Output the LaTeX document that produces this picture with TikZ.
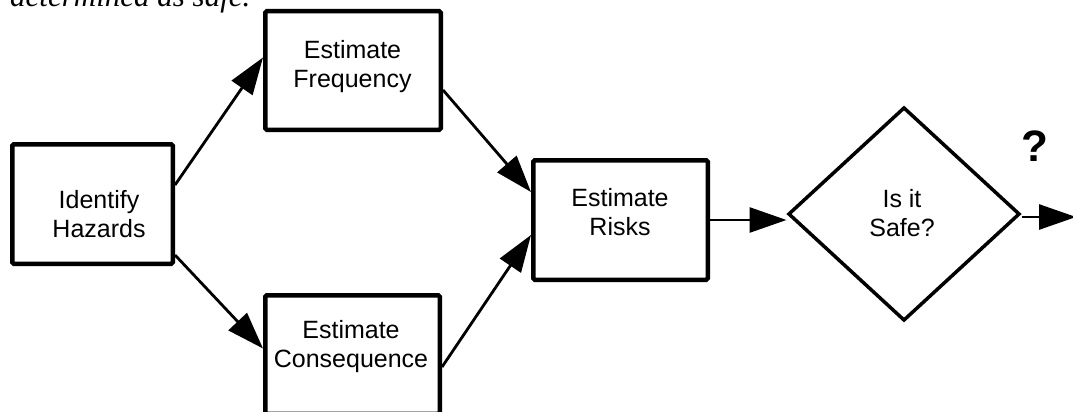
\documentclass[tikz,border=0pt]{standalone}
\usepackage{fontspec}
\setmainfont{Liberation Sans}
\newfontfamily\capfont{Liberation Serif}
\usetikzlibrary{arrows.meta,shapes.geometric,calc}
\begin{document}
\begin{tikzpicture}[x=1pt,y=-1pt,
  box/.style={draw, line width=4.5pt, rounded corners=1.5pt, minimum width=175.5pt, minimum height=118.5pt, inner sep=0pt},
  txt/.style={align=center, font=\fontsize{25}{29}\selectfont, inner sep=0pt},
  conn/.style={line width=2.8pt, -{Triangle[length=37pt,width=25pt]}},
  ]
\useasboundingbox (0,0) rectangle (1073,412);
\clip (0,0) rectangle (1073,412);

% partially visible caption text
\node[anchor=base west, inner sep=0pt, font=\capfont\itshape\fontsize{31}{36}\selectfont] (cap) at (10,7) {determined as safe.};

% boxes
\node[box, minimum width=160.5pt, minimum height=119.5pt] (hz) at (92.5,204) {};
\node[txt] (hzt) at (99,214) {Identify\\Hazards};

\node[box] (fr) at (353,70.5) {};
\node[txt] (frt) at (352.5,67) {Estimate\\Frequency};

\node[box, minimum width=174.5pt] (co) at (352.5,354.5) {};
\node[txt] (cot) at (351,347) {Estimate\\Consequence};

\node[box, minimum width=174.5pt, minimum height=119.5pt] (ri) at (620.5,220) {};
\node[txt] (rit) at (620,212.5) {Estimate\\Risks};

\node[draw, diamond, line width=3.5pt, minimum width=231.5pt, minimum height=213.5pt, inner sep=0pt] (di) at (904,214) {};
\node[txt] (dit) at (902,213.5) {Is it\\Safe?};

\node[inner sep=0pt, font=\bfseries\fontsize{44}{50}\selectfont] (q) at (1035,146) {?};

\coordinate (out) at (1076,217);

% connectors
\draw[conn] ([yshift=-43pt]hz.north east) -- ([yshift=13pt]fr.west);
\draw[conn] ([yshift=11pt]hz.south east) -- ([yshift=6pt]co.west);
\draw[conn] ([yshift=-19.5pt]fr.east) -- ([yshift=28pt]ri.west);
\draw[conn] ([yshift=-12.5pt]co.east) -- ([yshift=-15pt]ri.west);
\draw[conn] (ri.east) -- (ri.east -| di.west);
\draw[conn] (di.east |- out) -- (out);
\end{tikzpicture}
\end{document}
